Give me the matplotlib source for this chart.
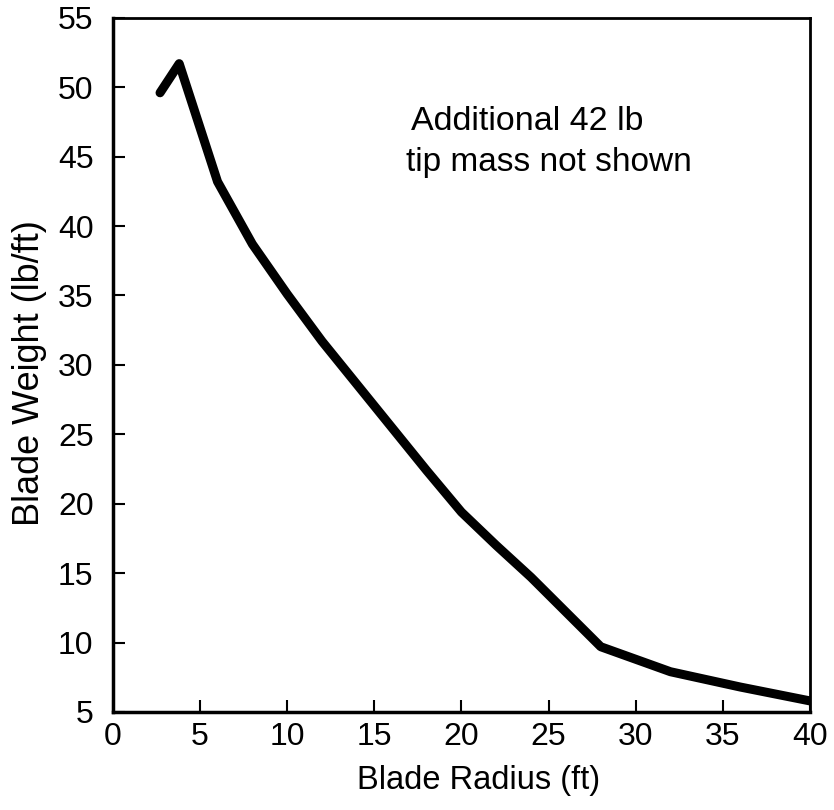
import matplotlib
matplotlib.use("Agg")
import matplotlib.pyplot as plt

plt.rcParams['font.family'] = ['Liberation Sans', 'DejaVu Sans']

# blade weight distribution
radius = [2.7, 3.8, 6, 8, 10, 12, 14, 16, 18, 20, 22, 24, 28, 32, 36, 40]
weight = [49.6, 51.7, 43.2, 38.7, 35.1, 31.7, 28.6, 25.5, 22.4, 19.4, 17.0, 14.7, 9.7, 7.9, 6.8, 5.8]

xticks = [0, 5, 10, 15, 20, 25, 30, 35, 40]
yticks = [5, 10, 15, 20, 25, 30, 35, 40, 45, 50, 55]

fig = plt.figure(figsize=(8.34, 8.10), dpi=100)
ax = fig.add_axes([0.1355, 0.121, 0.8355, 0.857])

ax.plot(radius, weight, color='black', linewidth=6.5, solid_capstyle='round',
        solid_joinstyle='round')

ax.set_xlim(0, 40)
ax.set_ylim(5, 55)
ax.set_xticks(xticks)
ax.set_yticks(yticks)
ax.tick_params(direction='in', length=8.5, width=1.5, labelsize=23)
ax.tick_params(axis='y', pad=14)
ax.tick_params(axis='x', pad=7)

for side in ['left', 'bottom']:
    ax.spines[side].set_linewidth(2.5)
for side in ['top', 'right']:
    ax.spines[side].set_linewidth(2)

ax.set_xlabel('Blade Radius (ft)', fontsize=23.5)
ax.set_ylabel('Blade Weight (lb/ft)', fontsize=26)
ax.yaxis.set_label_coords(-0.095, 0.488)
ax.xaxis.set_label_coords(0.524, -0.076)

ax.text(0.594, 0.850, 'Additional 42 lb', transform=ax.transAxes,
        fontsize=24.5, ha='center', va='center')
ax.text(0.626, 0.780, 'tip mass not shown', transform=ax.transAxes,
        fontsize=24, ha='center', va='baseline')

fig.savefig('out.png', dpi=100)
